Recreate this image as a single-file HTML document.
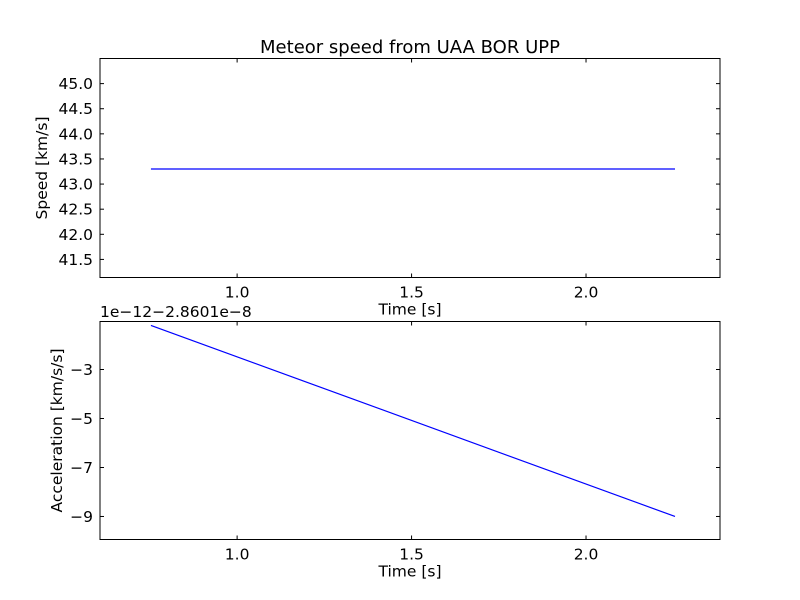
<!DOCTYPE html>
<html><head><meta charset="utf-8"><style>
body{margin:0;background:#fff;}
svg{display:block;font-family:"DejaVu Sans","Liberation Sans",sans-serif;}
</style></head><body>
<svg id="c" width="800" height="600" viewBox="0 0 800 600">
<rect width="800" height="600" fill="#fff"/>
<text x="410" y="53" font-size="18" text-anchor="middle">Meteor speed from  UAA BOR UPP</text>
<g id="g"></g>
</svg>
<script>
const xTicks=[1.0,1.5,2.0];
const xTickLabels=["1.0","1.5","2.0"];
const speedTicks=[41.5,42.0,42.5,43.0,43.5,44.0,44.5,45.0];
const speedTickLabels=["41.5","42.0","42.5","43.0","43.5","44.0","44.5","45.0"];
const accTicks=[-3,-5,-7,-9];
const accTickLabels=["\u22123","\u22125","\u22127","\u22129"];
const timeVals=[0.753,2.255];
const speedVals=[43.3,43.3];
const accVals=[-1.2,-9.0];
const NS="http://www.w3.org/2000/svg";
const g=document.getElementById('g');
const FS=15.5;
function mk(t,a,p){const e=document.createElementNS(NS,t);for(const k in a)e.setAttribute(k,a[k]);(p||g).appendChild(e);return e;}
const L=100,R=720,xMin=0.607,xMax=2.384;
const xs=v=>L+(v-xMin)/(xMax-xMin)*(R-L);
function panel(name,top,bot,yMin,yMax,ticks,labels,vals,ylabel,ylx){
  const ys=v=>bot-(v-yMin)/(yMax-yMin)*(bot-top);
  const grp=mk('g',{});
  
  
  xTicks.forEach((t,i)=>{const x=xs(t);
    mk('line',{x1:x,x2:x,y1:bot,y2:bot-4,stroke:'#000'},grp);
    mk('line',{x1:x,x2:x,y1:top,y2:top+4,stroke:'#000'},grp);
    const tx=mk('text',{x:x,y:bot+20,'font-size':FS,'text-anchor':'middle'},grp);tx.textContent=xTickLabels[i];
    
    });
  ticks.forEach((t,i)=>{const y=ys(t);
    mk('line',{x1:L,x2:L+4,y1:y,y2:y,stroke:'#000'},grp);
    mk('line',{x1:R,x2:R-4,y1:y,y2:y,stroke:'#000'},grp);
    const tx=mk('text',{x:L-7,y:y+5.5,'font-size':FS,'text-anchor':'end'},grp);tx.textContent=labels[i];
    
    });
  const pts=timeVals.map((t,i)=>xs(t)+','+ys(vals[i])).join(' ');
  const pl=mk('polyline',{points:pts,fill:'none',stroke:'#0000ff','stroke-width':1.2},grp);
  
  
  const fr=mk('rect',{x:L,y:top,width:R-L,height:bot-top,fill:'none',stroke:'#000','stroke-width':1},grp);
  
  
  const xl=mk('text',{x:410,y:bot+37,'font-size':FS,'text-anchor':'middle'},grp);xl.textContent='Time [s]';
  
  
  const yl=mk('text',{x:ylx,y:(top+bot)/2,'font-size':FS,'text-anchor':'middle',transform:`rotate(-90 ${ylx} ${(top+bot)/2})`},grp);yl.textContent=ylabel;
  
  
}
panel('speed',58.5,277.5,41.14,45.5,speedTicks,speedTickLabels,speedVals,'Speed [km/s]',47);
panel('acceleration',321.5,539.5,-9.94,-1.04,accTicks,accTickLabels,accVals,'Acceleration [km/s/s]',62);
const off=mk('text',{x:100,y:317,'font-size':FS});off.textContent='1e\u221212\u22122.8601e\u22128';


</script>
</body></html>
